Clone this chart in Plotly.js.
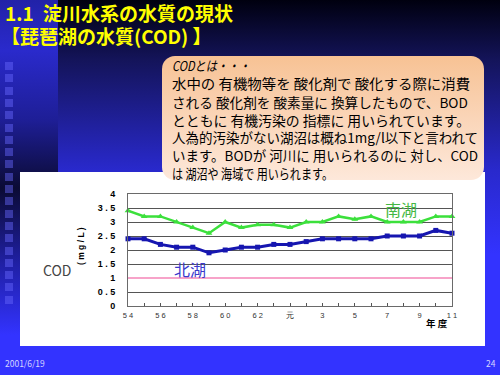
<!DOCTYPE html>
<html><head><meta charset="utf-8">
<script src="https://cdn.plot.ly/plotly-3.0.1.min.js"></script>
<style>
html,body{margin:0;padding:0;width:500px;height:375px;overflow:hidden;background:#000;}
#slide{position:relative;width:500px;height:375px;overflow:hidden;
 background:linear-gradient(to bottom,#00000f 0px,#14145a 60px,#2929cc 170px,#3333ff 255px,#3333ff 375px);
 font-family:"Noto Sans CJK JP","Noto Sans",sans-serif;}
#strip{position:absolute;left:0;top:0;width:58px;height:375px;
 background:linear-gradient(to bottom,#2222a8 0px,#2a2acc 50px,#1e1e96 120px,#0b0b34 188px,#2020a6 265px,#3333ff 335px,#3333ff 375px);}
.sq{position:absolute;left:5px;width:8px;height:8px;background:rgba(105,105,255,0.45);}
#panel{position:absolute;left:20px;top:172px;width:465px;height:174px;background:#fff;}
#chart{position:absolute;left:0;top:0;width:500px;height:375px;}
#callout{position:absolute;left:162px;top:56px;width:322px;height:124px;border-radius:13px;
 background:linear-gradient(to bottom,#f7c294 0%,#fad5b8 50%,#fde8da 100%);}
.ln{position:absolute;left:172px;white-space:nowrap;font-size:13.5px;line-height:14px;color:#000;transform-origin:0 50%;}
.title{position:absolute;color:#ffff00;font-size:19px;font-weight:bold;line-height:20px;white-space:nowrap;}
.foot{position:absolute;color:#d4d4ff;font-size:8.5px;line-height:10px;white-space:nowrap;font-family:"Noto Sans CJK JP",sans-serif;}
</style></head>
<body>
<div id="slide">
 <div id="strip"></div>
 <div id="squares"></div>
 <div id="panel"></div>
 <div id="chart"></div>
 <div id="callout"></div>
 <div class="ln" style="top:58px;font-style:italic;" data-w="78">CODとは・・・</div>
 <div class="ln" style="top:76px;" data-w="298">水中の 有機物等を 酸化剤で 酸化する際に消費</div>
 <div class="ln" style="top:95px;" data-w="296">される 酸化剤を 酸素量に 換算したもので、BOD</div>
 <div class="ln" style="top:113px;" data-w="298">とともに 有機汚染の 指標に 用いられています。</div>
 <div class="ln" style="top:130px;" data-w="306">人為的汚染がない湖沼は概ね1mg/l以下と言われて</div>
 <div class="ln" style="top:148px;" data-w="306">います。BODが 河川に 用いられるのに 対し、COD</div>
 <div class="ln" style="top:166px;" data-w="161">は 湖沼や 海域で 用いられます。</div>
 <div class="title" style="left:5px;top:3px;">1.1</div>
 <div class="title" style="left:43px;top:3px;">淀川水系の水質の現状</div>
 <div class="title" style="left:1px;top:26px;">【琵琶湖の水質(COD) 】</div>
 <div class="foot" style="left:5px;top:358px;">2001/6/19</div>
 <div class="foot" style="left:486px;top:358px;">24</div>
</div>
<script>
// chart data
const years = ['54','55','56','57','58','59','60','61','62','63','元','2','3','4','5','6','7','8','9','10','11'];
const yearLabels = ['5 4','','5 6','','5 8','','6 0','','6 2','','元','','3','','5','','7','','9','','1 1'];
const southLake = [3.4,3.2,3.2,3.0,2.8,2.6,3.0,2.8,2.9,2.9,2.8,3.0,3.0,3.2,3.1,3.2,3.0,3.0,3.0,3.2,3.2];
const northLake = [2.4,2.4,2.2,2.1,2.1,1.9,2.0,2.1,2.1,2.2,2.2,2.3,2.4,2.4,2.4,2.4,2.5,2.5,2.5,2.7,2.6];
const standard  = [1,1,1,1,1,1,1,1,1,1,1,1,1,1,1,1,1,1,1,1,1];
const yTickVals = [0,0.5,1,1.5,2,2.5,3,3.5,4];
const yTickText = ['0','0 . 5','1','1 . 5','2','2 . 5','3','3 . 5','4'];

// decorative squares on the left strip
const sqBox = document.getElementById('squares');
for (let i = 0; i < 20; i++) {
  const d = document.createElement('div');
  d.className = 'sq';
  d.style.top = (62 + i * 12.3).toFixed(1) + 'px';
  sqBox.appendChild(d);
}

const traces = [
  {x: years, y: standard, type: 'scatter', mode: 'lines', line: {color: '#f7a3c9', width: 2}, hoverinfo: 'skip'},
  {x: years, y: southLake, type: 'scatter', mode: 'lines+markers', cliponaxis: false,
   line: {color: '#3ce03c', width: 2.5}, marker: {symbol: 'triangle-up', size: 6, color: '#3ce03c'}},
  {x: years, y: northLake, type: 'scatter', mode: 'lines+markers', cliponaxis: false,
   line: {color: '#1616b0', width: 3}, marker: {symbol: 'square', size: 5, color: '#1616b0'}}
];

const layout = {
  width: 500, height: 375,
  margin: {l: 128, r: 48, t: 194, b: 69, pad: 0},
  paper_bgcolor: 'rgba(0,0,0,0)', plot_bgcolor: '#ffffff',
  showlegend: false,
  font: {family: '"Liberation Sans", Arial, sans-serif'},
  xaxis: {
    type: 'category', range: [0, 20],
    tickmode: 'array', tickvals: years, ticktext: yearLabels,
    ticks: 'inside', ticklen: 3, tickcolor: '#555', tickwidth: 1,
    showgrid: false, zeroline: false,
    showline: true, linecolor: '#6a6a6a', linewidth: 1, mirror: true,
    tickfont: {size: 7.5, color: '#333', family: '"Liberation Sans", Arial, sans-serif'},
    ticklabelstandoff: 2, fixedrange: true
  },
  yaxis: {
    range: [0, 4], tickmode: 'array', tickvals: yTickVals, ticktext: yTickText,
    showgrid: true, gridcolor: '#555', gridwidth: 1, zeroline: false,
    showline: true, linecolor: '#6a6a6a', linewidth: 1, mirror: true,
    ticks: '', tickfont: {size: 9, color: '#000', weight: 'bold', family: '"Liberation Sans", Arial, sans-serif'},
    ticklabelstandoff: 10, fixedrange: true
  },
  annotations: [
    {x: 3.83, y: 1.32, xref: 'x', yref: 'y', xanchor: 'center', yanchor: 'middle', text: '北湖', showarrow: false,
     font: {size: 16, color: '#3a3acc', family: '"Noto Sans CJK JP", sans-serif'}},
    {x: 16.85, y: 3.46, xref: 'x', yref: 'y', xanchor: 'center', yanchor: 'middle', text: '南湖', showarrow: false,
     font: {size: 16, color: '#44b844', family: '"Noto Sans CJK JP", sans-serif'}},
    {x: -0.219, y: 0.321, xref: 'paper', yref: 'paper', xanchor: 'center', yanchor: 'middle', text: 'COD', showarrow: false,
     font: {size: 14, color: '#444', family: '"Noto Sans CJK JP", sans-serif'}},
    {x: -0.145, y: 0.536, xref: 'paper', yref: 'paper', xanchor: 'center', yanchor: 'middle', text: '( m g / L )', showarrow: false, textangle: -90,
     font: {size: 8.5, color: '#000', weight: 'bold', family: '"Liberation Sans", Arial, sans-serif'}},
    {x: 0.954, y: -0.152, xref: 'paper', yref: 'paper', xanchor: 'center', yanchor: 'middle', text: '年 度', showarrow: false,
     font: {size: 9.5, color: '#000', weight: 'bold', family: '"Noto Sans CJK JP", sans-serif'}}
  ]
};

Plotly.newPlot('chart', traces, layout, {displayModeBar: false, staticPlot: true});

// fit callout lines to their measured widths in the reference
function fitLines() {
  document.querySelectorAll('.ln').forEach(el => {
    const target = parseFloat(el.dataset.w);
    el.style.transform = 'none';
    const w = el.getBoundingClientRect().width;
    if (w > 0) el.style.transform = 'scaleX(' + (target / w).toFixed(3) + ')';
  });
}
fitLines();
if (document.fonts && document.fonts.ready) document.fonts.ready.then(fitLines);
</script>
</body></html>
